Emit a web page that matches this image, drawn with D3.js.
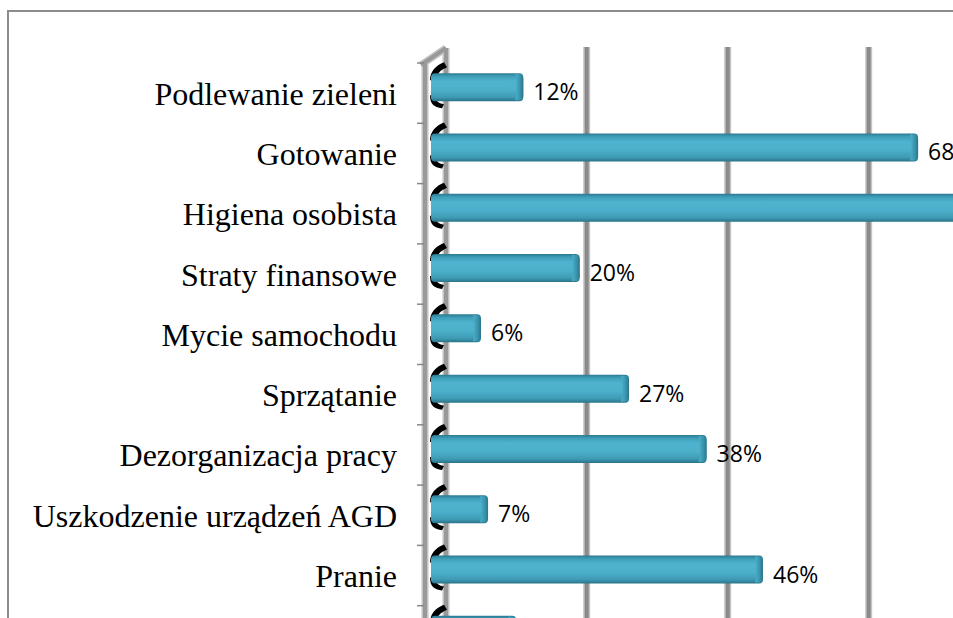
<!DOCTYPE html>
<html>
<head>
<meta charset="utf-8">
<script src="https://cdn.jsdelivr.net/npm/d3@7"></script>
<style>
  html, body { margin: 0; padding: 0; background: #fff; overflow: hidden; }
  svg { display: block; }
</style>
</head>
<body>
<div class="plot-container"></div>
<script>
// categories and values (last row is cut at the bottom)
const categories = [
  "Podlewanie zieleni",
  "Gotowanie",
  "Higiena osobista",
  "Straty finansowe",
  "Mycie samochodu",
  "Sprzątanie",
  "Dezorganizacja pracy",
  "Uszkodzenie urządzeń AGD",
  "Pranie",
  "Inne"
];
const values = [12, 68, 89, 20, 6, 27, 38, 7, 46, 11];
const gridTicks = [20, 40, 60, 80, 100];

const width = 953, height = 618;
const GRID_COLOR = "#8a8a8a";
const GRID_EDGE = "#c4c4c4";
const DEPTH_X = 7;       // 3d back-wall offset
const BAR_SHIFT = -6;    // bars sit a bit higher than the band centre
const BAR_HEIGHT = 28;
const BAR_START = 431;

const svg = d3.select("div.plot-container").append("svg")
  .attr("width", width)
  .attr("height", height);

const defs = svg.append("defs");
const grad = defs.append("linearGradient")
  .attr("id", "barGrad")
  .attr("x1", 0).attr("y1", 0).attr("x2", 0).attr("y2", 1);
[["0%", "#2b7a90"], ["12%", "#3f9fb9"], ["30%", "#4fb3cf"], ["60%", "#4cb0cb"], ["86%", "#3e9ab3"], ["100%", "#2a7388"]]
  .forEach(([o, c]) => grad.append("stop").attr("offset", o).attr("stop-color", c));

const capGrad = defs.append("linearGradient")
  .attr("id", "capGrad")
  .attr("x1", 0).attr("y1", 0).attr("x2", 1).attr("y2", 0);
[["0%", "#4ab0cb"], ["60%", "#3a93ab"], ["100%", "#2b7489"]]
  .forEach(([o, c]) => capGrad.append("stop").attr("offset", o).attr("stop-color", c));

// frame
svg.append("rect")
  .attr("x", 8).attr("y", 11)
  .attr("width", width + 20).attr("height", height + 20)
  .attr("fill", "none")
  .attr("stroke", "#8c8c8c")
  .attr("stroke-width", 2);

const x = d3.scaleLinear().domain([0, 100]).range([438.7, 1143.7]);
const y = d3.scaleBand().domain(categories).range([63, 63 + 60.3 * categories.length]);

// gridlines on the back wall
const grid = svg.append("g").attr("class", "grid");
grid.selectAll("line.edge")
  .data(gridTicks)
  .enter().append("line")
  .attr("class", "edge")
  .attr("x1", d => x(d) + DEPTH_X).attr("x2", d => x(d) + DEPTH_X)
  .attr("y1", 47).attr("y2", height)
  .attr("stroke", GRID_EDGE).attr("stroke-width", 7);
grid.selectAll("line.core")
  .data(gridTicks)
  .enter().append("line")
  .attr("class", "core")
  .attr("x1", d => x(d) + DEPTH_X).attr("x2", d => x(d) + DEPTH_X)
  .attr("y1", 47).attr("y2", height)
  .attr("stroke", GRID_COLOR).attr("stroke-width", 4);

// side wall of the category axis
const wall = svg.append("g").attr("class", "wall");
const wallPath = "M425,64 L425,620 M446,48 L446,620 M421,65 L446,48";
wall.append("path").attr("d", wallPath).attr("fill", "none")
  .attr("stroke", GRID_EDGE).attr("stroke-width", 7);
wall.append("path").attr("d", wallPath).attr("fill", "none")
  .attr("stroke", "#999").attr("stroke-width", 4);

// tick marks between categories
wall.selectAll("line.tick")
  .data(categories)
  .enter().append("line")
  .attr("class", "tick")
  .attr("x1", 417).attr("x2", 424)
  .attr("y1", d => y(d)).attr("y2", d => y(d))
  .attr("stroke", "#888").attr("stroke-width", 1.5);

const barTop = d => y(d) + y.bandwidth() / 2 + BAR_SHIFT - BAR_HEIGHT / 2;

// black shading where the bars meet the wall
const shade = svg.append("g").attr("class", "shade");
shade.selectAll("path.top")
  .data(categories)
  .enter().append("path")
  .attr("class", "top")
  .attr("d", d => {
    const t = barTop(d);
    return `M430,${t + 7} C430,${t - 2} 436,${t - 8} 444,${t - 11} L447,${t - 6} C440,${t - 3} 437,${t} 437,${t + 7} Z`;
  })
  .attr("fill", "#000");
shade.selectAll("path.bottom")
  .data(categories)
  .enter().append("path")
  .attr("class", "bottom")
  .attr("d", d => {
    const b = barTop(d) + BAR_HEIGHT;
    return `M430,${b - 6} C430,${b + 3} 434,${b + 6} 442,${b + 7} L444,${b + 3} C438,${b + 2} 436,${b} 436,${b - 6} Z`;
  })
  .attr("fill", "#000");

const rows = categories.map((c, i) => ({ c, v: values[i] }));

// bars
const bars = svg.append("g").attr("class", "bars")
  .selectAll("g")
  .data(rows)
  .enter().append("g");

bars.append("rect")
  .attr("x", BAR_START)
  .attr("y", d => barTop(d.c))
  .attr("width", d => x(d.v) - BAR_START)
  .attr("height", BAR_HEIGHT)
  .attr("rx", 4)
  .attr("fill", "url(#barGrad)");

// rounded end cap
bars.append("path")
  .attr("d", d => {
    const e = x(d.v), t = barTop(d.c), b = t + BAR_HEIGHT;
    return `M${e - 8},${t + 1} L${e - 4},${t + 1} Q${e},${t + 1} ${e},${t + 6} L${e},${b - 6} Q${e},${b - 1} ${e - 4},${b - 1} L${e - 8},${b - 1} Q${e - 5},${b - 14} ${e - 8},${t + 1} Z`;
  })
  .attr("fill", "url(#capGrad)");

// value labels (only those that start inside the visible area, like the cropped original)
svg.append("g").attr("class", "labels")
  .selectAll("text")
  .data(rows.filter(d => x(d.v) + 10 < width && y(d.c) + y.bandwidth() / 2 + 7 < height))
  .enter().append("text")
  .attr("x", d => x(d.v) + 10)
  .attr("y", d => y(d.c) + y.bandwidth() / 2 + 7)
  .style("font-family", "'Open Sans', sans-serif")
  .style("font-size", "23px")
  .attr("fill", "#000")
  .text(d => `${d.v}%`);

// category labels
svg.append("g").attr("class", "categories")
  .selectAll("text")
  .data(categories.filter(d => y(d) + y.bandwidth() / 2 < height))
  .enter().append("text")
  .attr("x", 397)
  .attr("y", d => y(d) + y.bandwidth() / 2 + 11.5)
  .attr("text-anchor", "end")
  .style("font-family", "'Liberation Serif', 'Times New Roman', serif")
  .style("font-size", "32px")
  .attr("fill", "#000")
  .text(d => d);
</script>
</body>
</html>
